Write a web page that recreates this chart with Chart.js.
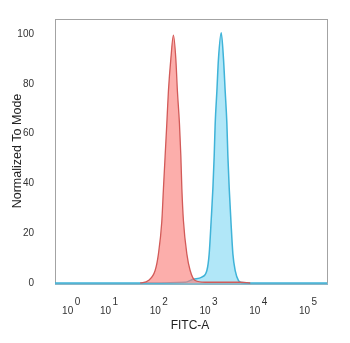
<!DOCTYPE html>
<html lang="en">
<head>
    <meta charset="UTF-8">
    <title>FITC-A histogram</title>
    <script src="https://cdn.jsdelivr.net/npm/chart.js"></script>
    <style>
        body { margin: 0; background: #fff; }
        #wrap { width: 350px; height: 343px; position: relative; }
    </style>
</head>
<body>
    <div id="wrap"><canvas id="histo"></canvas></div>

    <script>
        // axis is in logicle display units (decades), so 10^0 sits a bit compressed
        const decadeTicks = [0.24, 1, 2, 3, 4, 5];
        const decadeExps = ['0', '1', '2', '3', '4', '5'];
        const yTicks = [0, 20, 40, 60, 80, 100];

        // isotype control (red)
        const redX = [1.644, 1.811, 1.946, 2.012, 2.080, 2.113, 2.147, 2.181, 2.213, 2.262, 2.314,
                      2.362, 2.394, 2.435, 2.463, 2.483, 2.515, 2.584, 2.650, 2.750, 2.952, 3.656, 3.857];
        const redY = [0, 1, 5, 11.6, 24.6, 37.8, 51, 64, 77, 90, 99.5,
                      90, 77, 64, 51, 38, 25, 11.6, 5, 1, 0.3, 0.3, 0];

        // stained sample (blue)
        const blueX = [-0.066, 1.845, 2.549, 2.710, 2.885, 2.986, 3.032, 3.072, 3.107, 3.133, 3.153, 3.187, 3.219, 3.274,
                       3.320, 3.354, 3.388, 3.408, 3.435, 3.469, 3.509, 3.555, 3.622, 3.690, 3.857, 5.40];
        const blueY = [0, 0, 0.3, 1.5, 2.4, 5, 11.6, 25, 38, 51, 64, 77, 90, 100.5,
                       90, 77, 64, 51, 38, 25, 11.6, 5, 1, 0.2, 0, 0];

        const toPoints = (xs, ys) => xs.map((x, i) => ({ x: x, y: ys[i] }));

        // frame + x labels with superscripts
        const framePlugin = {
            id: 'frame',
            beforeDatasetsDraw(chart) {
                const { ctx, chartArea: a } = chart;
                ctx.save();
                ctx.strokeStyle = '#a3a3a3';
                ctx.lineWidth = 1;
                ctx.strokeRect(a.left + 0.5, a.top + 0.5, a.right - a.left, a.bottom - a.top);
                // the zero line looks heavier in the original
                ctx.strokeStyle = '#8cb6c6';
                ctx.lineWidth = 2;
                ctx.beginPath();
                ctx.moveTo(a.left, a.bottom + 1);
                ctx.lineTo(a.right + 1, a.bottom + 1);
                ctx.stroke();
                ctx.restore();
            },
            afterDraw(chart) {
                const { ctx } = chart;
                const xs = chart.scales.x;
                ctx.save();
                ctx.fillStyle = '#333';
                decadeTicks.forEach((v, i) => {
                    const px = xs.getPixelForValue(v);
                    ctx.font = '10px "Liberation Sans", Arial, sans-serif';
                    ctx.textAlign = 'right';
                    ctx.fillText('10', px + 3, 314);
                    ctx.font = '10px "Liberation Sans", Arial, sans-serif';
                    ctx.textAlign = 'left';
                    ctx.fillText(decadeExps[i], px + 4.5, 305);
                });
                ctx.fillStyle = '#222';
                ctx.font = '12px "Liberation Sans", Arial, sans-serif';
                ctx.textAlign = 'center';
                ctx.fillText('FITC-A', 190, 329);
                ctx.restore();
            }
        };

        new Chart(document.getElementById('histo'), {
            type: 'line',
            data: {
                datasets: [{
                    label: 'Isotype',
                    data: toPoints(redX, redY),
                    borderColor: '#d25a58',
                    backgroundColor: 'rgba(250,125,120,0.62)',
                    borderWidth: 1.3,
                    fill: 'origin',
                    pointRadius: 0,
                    cubicInterpolationMode: 'monotone',
                    clip: false
                }, {
                    label: 'Sample',
                    data: toPoints(blueX, blueY),
                    borderColor: '#3fb3d8',
                    backgroundColor: 'rgba(100,208,242,0.5)',
                    borderWidth: 1.5,
                    fill: 'origin',
                    pointRadius: 0,
                    cubicInterpolationMode: 'monotone',
                    clip: false
                }]
            },
            options: {
                responsive: true,
                maintainAspectRatio: false,
                animation: false,
                layout: { padding: { top: 12, right: 23, left: 0, bottom: 0 } },
                plugins: { legend: { display: false }, tooltip: { enabled: false } },
                scales: {
                    x: {
                        type: 'linear',
                        min: -0.066,
                        max: 5.40,
                        grid: { display: false },
                        border: { display: false },
                        ticks: { display: false },
                        afterBuildTicks: (s) => { s.ticks = decadeTicks.map(v => ({ value: v })); },
                        afterFit: (s) => { s.height = 60; }
                    },
                    y: {
                        min: 0,
                        max: 106,
                        grid: { display: false },
                        border: { display: false },
                        afterBuildTicks: (s) => { s.ticks = yTicks.map(v => ({ value: v })); },
                        afterFit: (s) => { s.width = 55; },
                        ticks: {
                            padding: 13,
                            color: '#333',
                            font: { size: 10, family: '"Liberation Sans", Arial, sans-serif' }
                        },
                        title: {
                            display: true,
                            text: 'Normalized To Mode',
                            color: '#222',
                            padding: { top: 10, bottom: 0 },
                            font: { size: 12.5, family: '"Liberation Sans", Arial, sans-serif' }
                        }
                    }
                }
            },
            plugins: [framePlugin]
        });
    </script>
</body>
</html>
